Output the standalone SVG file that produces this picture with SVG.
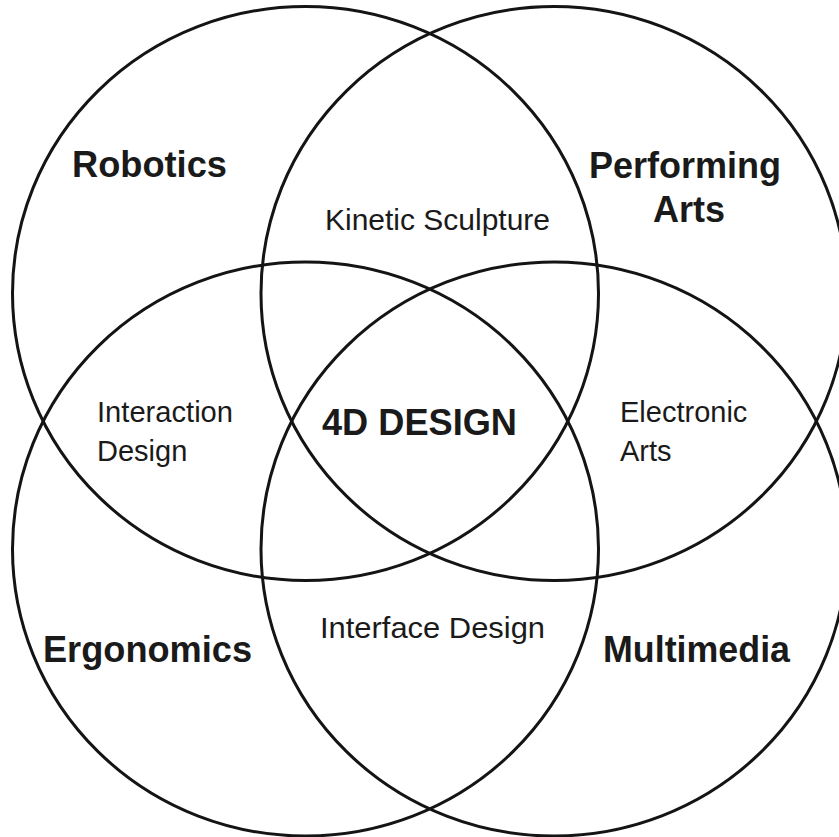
<svg xmlns="http://www.w3.org/2000/svg" width="839" height="837" viewBox="0 0 839 837">
  <style>
    .ring { fill: none; stroke: #141414; stroke-width: 3; }
    .field { font-family: "Liberation Sans", Arial, Helvetica, sans-serif; font-weight: bold; font-size: 36px; fill: #1a1a1a; }
    .overlap { font-family: "Liberation Sans", Arial, Helvetica, sans-serif; font-size: 29px; fill: #1a1a1a; }
  </style>
  <rect width="839" height="837" fill="#ffffff"/>

  <!-- four overlapping fields -->
  <g id="rings">
    <ellipse id="ring-robotics" class="ring" cx="305.5" cy="293.5" rx="293" ry="287"/>
    <ellipse id="ring-performing" class="ring" cx="554" cy="293.5" rx="293" ry="287"/>
    <ellipse id="ring-ergonomics" class="ring" cx="305.5" cy="549" rx="293" ry="287"/>
    <ellipse id="ring-multimedia" class="ring" cx="554" cy="549" rx="293" ry="287"/>
  </g>

  <!-- field names -->
  <g id="robotics"><text class="field" x="72" y="177" textLength="155" lengthAdjust="spacingAndGlyphs">Robotics</text></g>
  <g id="performing-arts">
    <text class="field" x="685" y="178" text-anchor="middle">Performing</text>
    <text class="field" x="689" y="222" text-anchor="middle">Arts</text>
  </g>
  <g id="ergonomics"><text class="field" x="43" y="662" textLength="209" lengthAdjust="spacingAndGlyphs">Ergonomics</text></g>
  <g id="multimedia"><text class="field" x="603" y="662" textLength="187" lengthAdjust="spacingAndGlyphs">Multimedia</text></g>

  <!-- overlap names -->
  <g id="kinetic-sculpture"><text class="overlap" x="325" y="230" textLength="225" lengthAdjust="spacingAndGlyphs">Kinetic Sculpture</text></g>
  <g id="interaction-design">
    <text class="overlap" x="97" y="422" textLength="136" lengthAdjust="spacingAndGlyphs">Interaction</text>
    <text class="overlap" x="97" y="461">Design</text>
  </g>
  <g id="electronic-arts">
    <text class="overlap" x="620" y="422">Electronic</text>
    <text class="overlap" x="620" y="461">Arts</text>
  </g>
  <g id="interface-design"><text class="overlap" x="320" y="638" textLength="225" lengthAdjust="spacingAndGlyphs">Interface Design</text></g>

  <!-- centre -->
  <g id="4d-design"><text class="field" x="322" y="435" textLength="195" lengthAdjust="spacingAndGlyphs">4D DESIGN</text></g>
</svg>
